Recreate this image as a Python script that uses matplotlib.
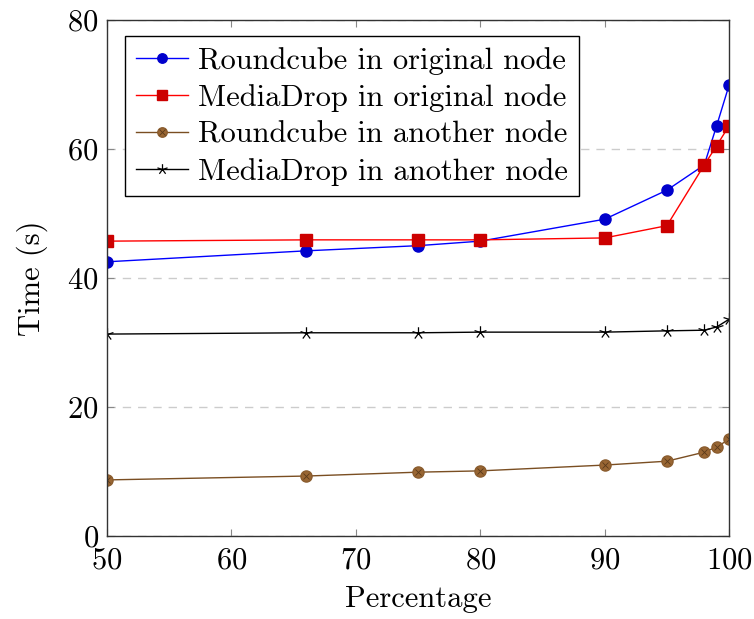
import matplotlib
matplotlib.use('Agg')
import numpy as np
import matplotlib.pyplot as plt
from matplotlib.path import Path
from matplotlib.legend_handler import HandlerTuple

plt.rcParams['font.family'] = 'serif'
plt.rcParams['font.serif'] = ['cmr10']
plt.rcParams['mathtext.fontset'] = 'cm'
plt.rcParams['axes.formatter.use_mathtext'] = True

percent = [50, 66, 75, 80, 90, 95, 98, 99, 100]
rc_orig = [42.5, 44.2, 45.0, 45.7, 49.1, 53.6, 57.5, 63.6, 69.9]
md_orig = [45.7, 45.9, 45.9, 45.9, 46.2, 48.1, 57.5, 60.5, 63.6]
rc_other = [8.7, 9.3, 9.9, 10.1, 11.0, 11.6, 13.0, 13.8, 15.0]
md_other = [31.3, 31.5, 31.5, 31.6, 31.6, 31.8, 31.9, 32.4, 33.6]

# pgfplots-like "star": five spokes from the centre
ang = np.pi / 2 + np.arange(5) * 2 * np.pi / 5
verts, codes = [], []
for a in ang:
    verts += [(0, 0), (np.cos(a), np.sin(a))]
    codes += [Path.MOVETO, Path.LINETO]
spoke_star = Path(verts, codes)

fig = plt.figure(figsize=(7.54, 6.19), dpi=100)
ax = fig.add_axes([0.142, 0.134, 0.825, 0.834])

l1, = ax.plot(percent, rc_orig, color='#0000ff', lw=1, marker='o', ms=8,
              mfc='#0000cc', mec='#0000cc')
l2, = ax.plot(percent, md_orig, color='#ff0000', lw=1, marker='s', ms=8,
              mfc='#cc0000', mec='#cc0000')
l3, = ax.plot(percent, rc_other, color='#7a4e22', lw=1, marker='o', ms=8,
              mfc='#996633', mec='#8a5c2e')
l3x, = ax.plot(percent, rc_other, ls='none', marker='x', ms=5, mew=0.6, color='#5a3a1a')
l4, = ax.plot(percent, md_other, color='black', lw=1, marker=spoke_star, ms=9,
              mfc='none', mec='black', mew=0.9)

ax.set_xlim(50, 100)
ax.set_ylim(0, 80)
ax.set_xticks([50, 60, 70, 80, 90, 100])
ax.set_yticks([0, 20, 40, 60, 80])
ax.tick_params(direction='in', length=5, labelsize=22, color='#888888',
               top=True, right=True)
ax.tick_params(axis='x', pad=8)
ax.tick_params(axis='y', pad=6)
ax.yaxis.grid(True, ls=(0, (6, 5)), color='#cccccc', lw=1)
for s in ax.spines.values():
    s.set_color('#333333')
    s.set_linewidth(1)

ax.set_xlabel('Percentage', fontsize=22, labelpad=8)
ax.set_ylabel('Time (s)', fontsize=22, labelpad=14)

leg = ax.legend([l1, l2, (l3, l3x), l4],
                ['Roundcube in original node', 'MediaDrop in original node',
                 'Roundcube in another node', 'MediaDrop in another node'],
                handler_map={tuple: HandlerTuple(ndivide=1)},
                loc='upper left', bbox_to_anchor=(0.029, 0.968), fontsize=22,
                fancybox=False, framealpha=1, edgecolor='black', markerscale=0.85,
                handlelength=1.7, handletextpad=0.35, borderpad=0.35,
                labelspacing=0.3, borderaxespad=0)
leg.get_frame().set_linewidth(1)

fig.savefig('out.png', dpi=100)
